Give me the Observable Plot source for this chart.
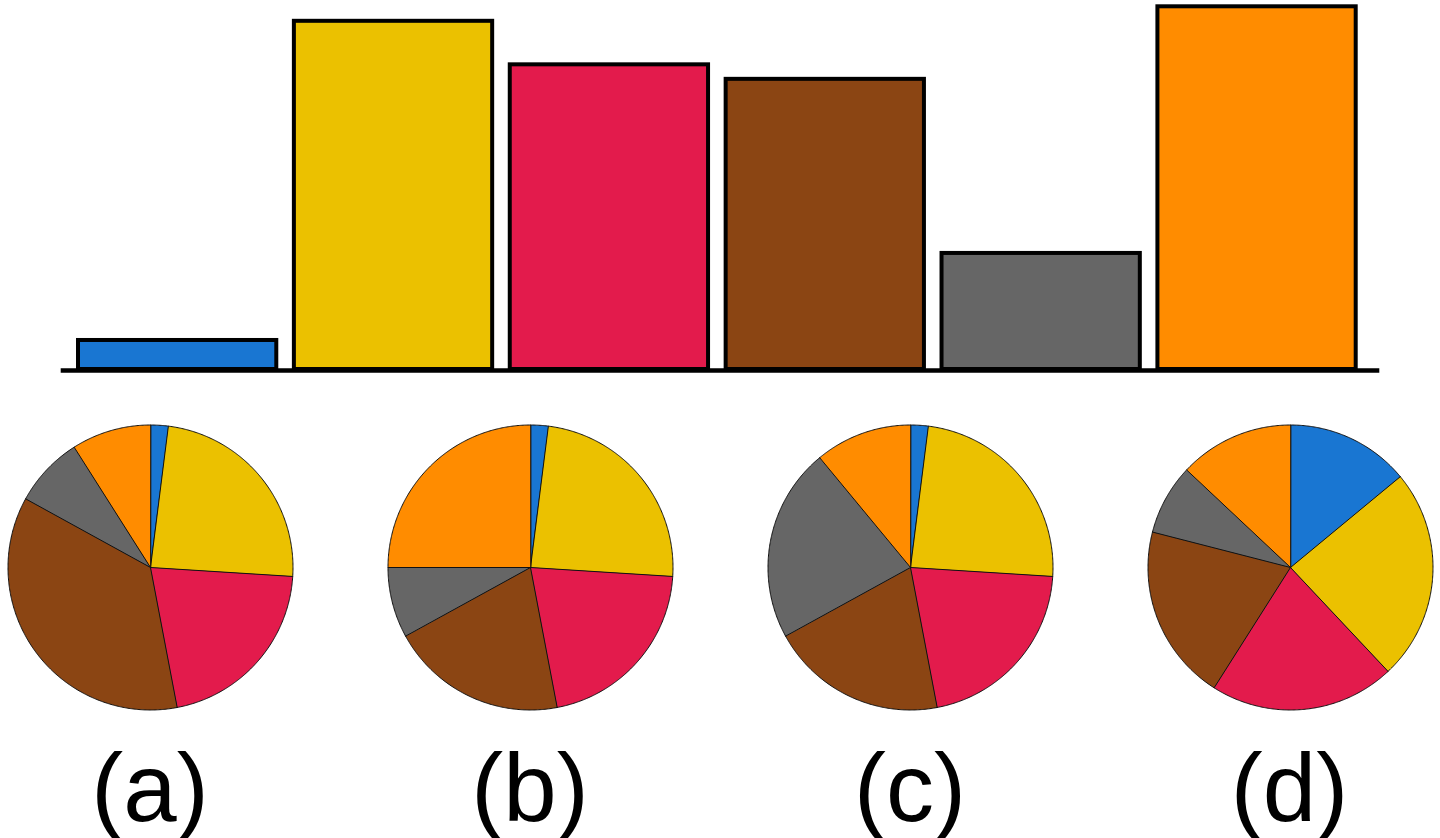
<!DOCTYPE html>
<html>
<head>
<meta charset="utf-8">
<script src="https://cdn.jsdelivr.net/npm/d3@7"></script>
<script src="https://cdn.jsdelivr.net/npm/@observablehq/plot@0.6"></script>
<style>
  html, body { margin: 0; padding: 0; background: #fff; }
  #root { position: relative; width: 1440px; height: 838px; overflow: hidden; background: #fff; }
  #root svg { position: absolute; background: transparent; }
  .lbl { position: absolute; width: 300px; text-align: center; font-family: "Liberation Sans", Arial, sans-serif;
         font-size: 96px; line-height: 96px; color: #000; }
</style>
</head>
<body>
<div id="root"></div>
<script>
// ---- data ----
const categories = ["A", "B", "C", "D", "E", "F"];
const colors = ["#1976d2", "#ebc100", "#e31b4c", "#8b4513", "#666666", "#ff8c00"];
const barValues = [2, 24, 21, 20, 8, 25];
const pieLabels = ["(a)", "(b)", "(c)", "(d)"];
const pieA = [2, 24, 21, 36, 8, 9];
const pieB = [2, 24, 21, 20, 8, 25];
const pieC = [2, 24, 21, 20, 22, 11];
const pieD = [14, 24, 21, 20, 8, 13];
const pies = [pieA, pieB, pieC, pieD];

const root = document.getElementById("root");

// ---- bar chart ----
const bars = categories.map((c, i) => ({cat: c, value: barValues[i], color: colors[i]}));
const barPlot = Plot.plot({
  width: 1440,
  height: 380,
  marginLeft: 78,
  marginRight: 84.3,
  marginTop: 6.3,
  marginBottom: 11,
  x: {domain: categories, paddingInner: 0.0815, paddingOuter: 0, round: false, axis: null},
  y: {domain: [0, 25], axis: null},
  color: {type: "identity"},
  marks: [
    Plot.ruleY([0], {stroke: "black", strokeWidth: 4.5, dy: 1, insetLeft: -17.3, insetRight: -23.6}),
    Plot.barY(bars, {x: "cat", y: "value", fill: "color", stroke: "black", strokeWidth: 4})
  ]
});
barPlot.style.left = "0px";
barPlot.style.top = "0px";
root.appendChild(barPlot);

// ---- pies ----
function pieRows(values) {
  const total = d3.sum(values);
  let acc = 0;
  const rows = [];
  values.forEach((v, i) => {
    const a0 = acc / total * 2 * Math.PI;
    const a1 = (acc + v) / total * 2 * Math.PI;
    acc += v;
    const n = Math.max(2, Math.ceil((a1 - a0) / (Math.PI / 360)));
    rows.push({slice: i, x: 0, y: 0});
    for (let k = 0; k <= n; k++) {
      const a = a0 + (a1 - a0) * k / n;
      rows.push({slice: i, x: Math.sin(a), y: Math.cos(a)});
    }
  });
  return rows;
}

const pieCentersX = [150, 530, 910, 1289.5];
const pieCenterY = 566.7;
const pieR = 142.5;

pies.forEach((vals, p) => {
  const rows = pieRows(vals);
  const plot = Plot.plot({
    width: 300,
    height: 300,
    margin: 150 - pieR,
    x: {domain: [-1, 1], axis: null},
    y: {domain: [-1, 1], axis: null},
    marks: categories.map((c, i) =>
      Plot.line(rows.filter(r => r.slice === i), {
        x: "x", y: "y", fill: colors[i], stroke: "#111", strokeWidth: 1, curve: "linear-closed"
      })
    )
  });
  plot.style.left = (pieCentersX[p] - 150) + "px";
  plot.style.top = (pieCenterY - 150) + "px";
  root.appendChild(plot);

  const lbl = document.createElement("div");
  lbl.className = "lbl";
  lbl.textContent = pieLabels[p];
  lbl.style.left = (pieCentersX[p] - 150) + "px";
  lbl.style.top = "739.5px";
  root.appendChild(lbl);
});
</script>
</body>
</html>
